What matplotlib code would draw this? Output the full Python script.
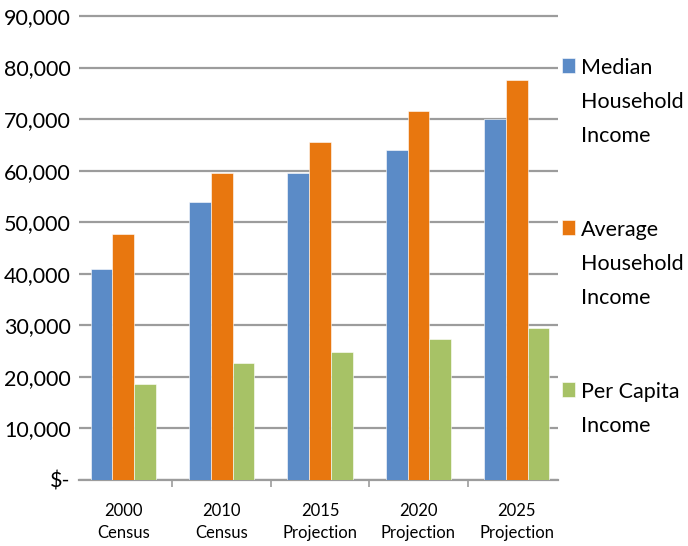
import matplotlib.pyplot as plt
import numpy as np
from matplotlib.patches import Patch

plt.rcParams["font.family"] = ["Lato", "DejaVu Sans"]

# Income by year, in dollars
categories = ["2000\nCensus", "2010\nCensus", "2015\nProjection", "2020\nProjection", "2025\nProjection"]
median_household = [40900, 53900, 59500, 64000, 70000]
average_household = [47700, 59500, 65500, 71500, 77500]
per_capita = [18700, 22600, 24900, 27300, 29400]

series_labels = ["Median\nHousehold\nIncome", "Average\nHousehold\nIncome", "Per Capita\nIncome"]
series_colors = ["#5B8BC7", "#E8770F", "#A7C266"]

y_ticks = list(range(0, 90001, 10000))
y_tick_labels = ["$-"] + [f"{v:,}" for v in y_ticks[1:]]

GRID_COLOR = "#9C9C9C"

fig = plt.figure(figsize=(6.88, 5.46), dpi=100)
# axes box placed in pixels: left 79, right 557.5, baseline 480, top of 90k line 16
ax_h = 464 * 90500 / 90000
ax = fig.add_axes([79 / 688, 66 / 546, 478.5 / 688, ax_h / 546])

x = np.arange(len(categories))
bar_w = 0.221
for i, (vals, color) in enumerate(zip([median_household, average_household, per_capita], series_colors)):
    ax.bar(x + (i - 1) * bar_w, vals, width=bar_w, color=color,
           edgecolor="white", linewidth=0.4, zorder=3)

ax.set_xlim(-0.450, 4.413)
ax.set_ylim(0, 90500)

ax.set_yticks(y_ticks)
ax.set_yticklabels(y_tick_labels, fontsize=15.5)
ax.tick_params(axis="y", length=0, pad=6)
ax.yaxis.grid(True, color=GRID_COLOR, linewidth=1.6, zorder=0)

# boundaries between categories carry the ticks, labels sit at the centres
ax.set_xticks(x[:-1] + 0.5)
ax.set_xticklabels([])
ax.tick_params(axis="x", which="major", length=5, width=1.2, color=GRID_COLOR, direction="out")
ax.set_xticks(x, minor=True)
ax.set_xticklabels(categories, minor=True, fontsize=12, linespacing=1.5)
ax.tick_params(axis="x", which="minor", length=0, pad=16.5)

for side in ["top", "right", "left"]:
    ax.spines[side].set_visible(False)
ax.spines["bottom"].set_color(GRID_COLOR)
ax.spines["bottom"].set_linewidth(1.6)
ax.set_axisbelow(True)

handles = [Patch(facecolor=c, edgecolor="white", linewidth=0.4) for c in series_colors]
leg = fig.legend(handles, series_labels, loc="upper left", bbox_to_anchor=(562 / 688, 1 - 58 / 546),
                 frameon=False, fontsize=15.5, handlelength=0.6, handleheight=0.7,
                 handletextpad=0.3, labelspacing=3.45, borderaxespad=0, borderpad=0)
for t in leg.get_texts():
    t.set_linespacing(1.87)
# put each square level with the first line of its label
for column in leg._legend_handle_box.get_children():
    for row in column.get_children():
        row.align = "top"

fig.savefig("out.png", dpi=100)
